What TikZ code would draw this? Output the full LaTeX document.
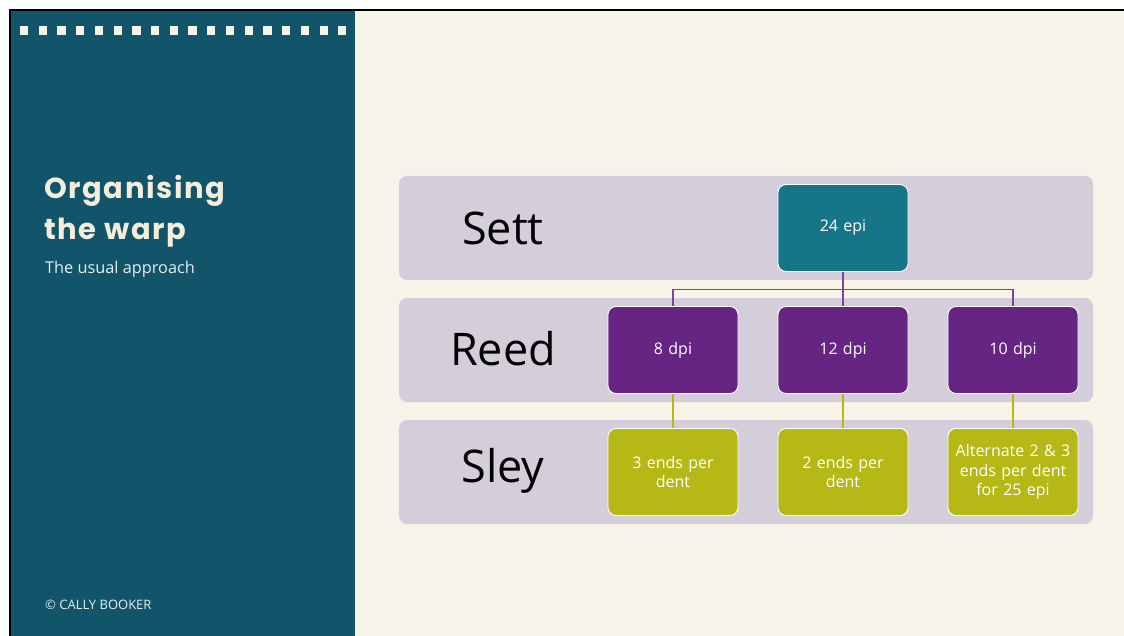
\documentclass[tikz,border=0pt]{standalone}
\usepackage{fontspec}
\setmainfont{Open Sans}
\newfontfamily\headfont{Poppins}[LetterSpace=5.5]
\usetikzlibrary{positioning}
\definecolor{panel}{HTML}{12546A}
\definecolor{paper}{HTML}{F7F3E8}
\definecolor{band}{HTML}{D4CEDB}
\definecolor{settc}{HTML}{17758A}
\definecolor{reedc}{HTML}{662483}
\definecolor{sleyc}{HTML}{B5B815}
\definecolor{headc}{HTML}{F3EDDA}
\definecolor{subc}{HTML}{E6EEF0}
\tikzset{
  rowband/.style={fill=band, rounded corners=8pt, draw=none},
  cell/.style={rounded corners=8pt, draw=white, line width=0.9pt, minimum width=130pt,
    minimum height=87pt, inner sep=0pt, text width=126pt, align=center,
    text=white, font=\fontsize{16}{19.5}\selectfont},
  settbox/.style={cell, fill=settc},
  reedbox/.style={cell, fill=reedc},
  sleybox/.style={cell, fill=sleyc},
  rowlabel/.style={font=\fontsize{45}{50}\selectfont, text=black, inner sep=0pt},
  tie/.style={draw=reedc!85!white, line width=1.1pt},
  tieg/.style={draw=sleyc, line width=1.1pt},
  dot/.style={fill=paper, draw=none},
  headline/.style={anchor=base west, inner sep=0pt, text=headc,
    font=\headfont\bfseries\fontsize{29}{33}\selectfont}
}
\begin{document}
\begin{tikzpicture}[x=1pt,y=-1pt]
\useasboundingbox (0,0) rectangle (1124,636);
\fill[white] (0,0) rectangle (1124,636);
\fill[paper] (10,10) rectangle (1124,636);
% side panel
\fill[panel] (11,11) rectangle (355,636);
\foreach \i in {0,...,17} {
  \fill[dot] ({20+\i*18.72},26) rectangle ++(8.2,8.6);
}
\draw[black, line width=2pt] (10,636) -- (10,10) -- (1124,10);
% heading
\node[headline] (h1) at (44,199) {Organising};
\node[headline] (h2) at (44,240) {the warp};
\node[anchor=base west, inner sep=0pt, text=subc, font=\fontsize{16.3}{19}\selectfont] (sub) at (45,274) {The usual approach};
\node[anchor=base west, inner sep=0pt, text=subc, font=\fontsize{13}{15}\selectfont] (copy) at (45,609) {\textcopyright{} CALLY BOOKER};
% rows
\fill[rowband] (399,176) rectangle (1093,280);
\fill[rowband] (399,298) rectangle (1093,402);
\fill[rowband] (399,420) rectangle (1093,524);
\node[rowlabel] (lsett) at (503,228) {Sett};
\node[rowlabel] (lreed) at (503,349) {Reed};
\node[rowlabel] (lsley) at (503,471) {Sley};
% boxes
\node[settbox] (e24) at (843,228) {\raisebox{-2pt}{24 epi}};
\node[reedbox] (r1) at (673,350) {\raisebox{-2pt}{8 dpi}};
\node[reedbox] (r2) at (843,350) {\raisebox{-2pt}{12 dpi}};
\node[reedbox] (r3) at (1013,350) {\raisebox{-2pt}{10 dpi}};
\node[sleybox] (s1) at (673,472) {3 ends per\\dent};
\node[sleybox] (s2) at (843,472) {2 ends per\\dent};
\node[sleybox] (s3) at (1013,472) {Alternate 2 \& 3\\ends per dent\\for 25 epi};
% connectors
\draw[tie] (e24.south) -- ++(0,18) coordinate (fork) -| (r1.north);
\draw[tie] (fork) -| (r3.north);
\draw[tie] (e24.south) -- (r2.north);
\draw[tieg] (r1.south) -- (s1.north);
\draw[tieg] (r2.south) -- (s2.north);
\draw[tieg] (r3.south) -- (s3.north);
\end{tikzpicture}
\end{document}
